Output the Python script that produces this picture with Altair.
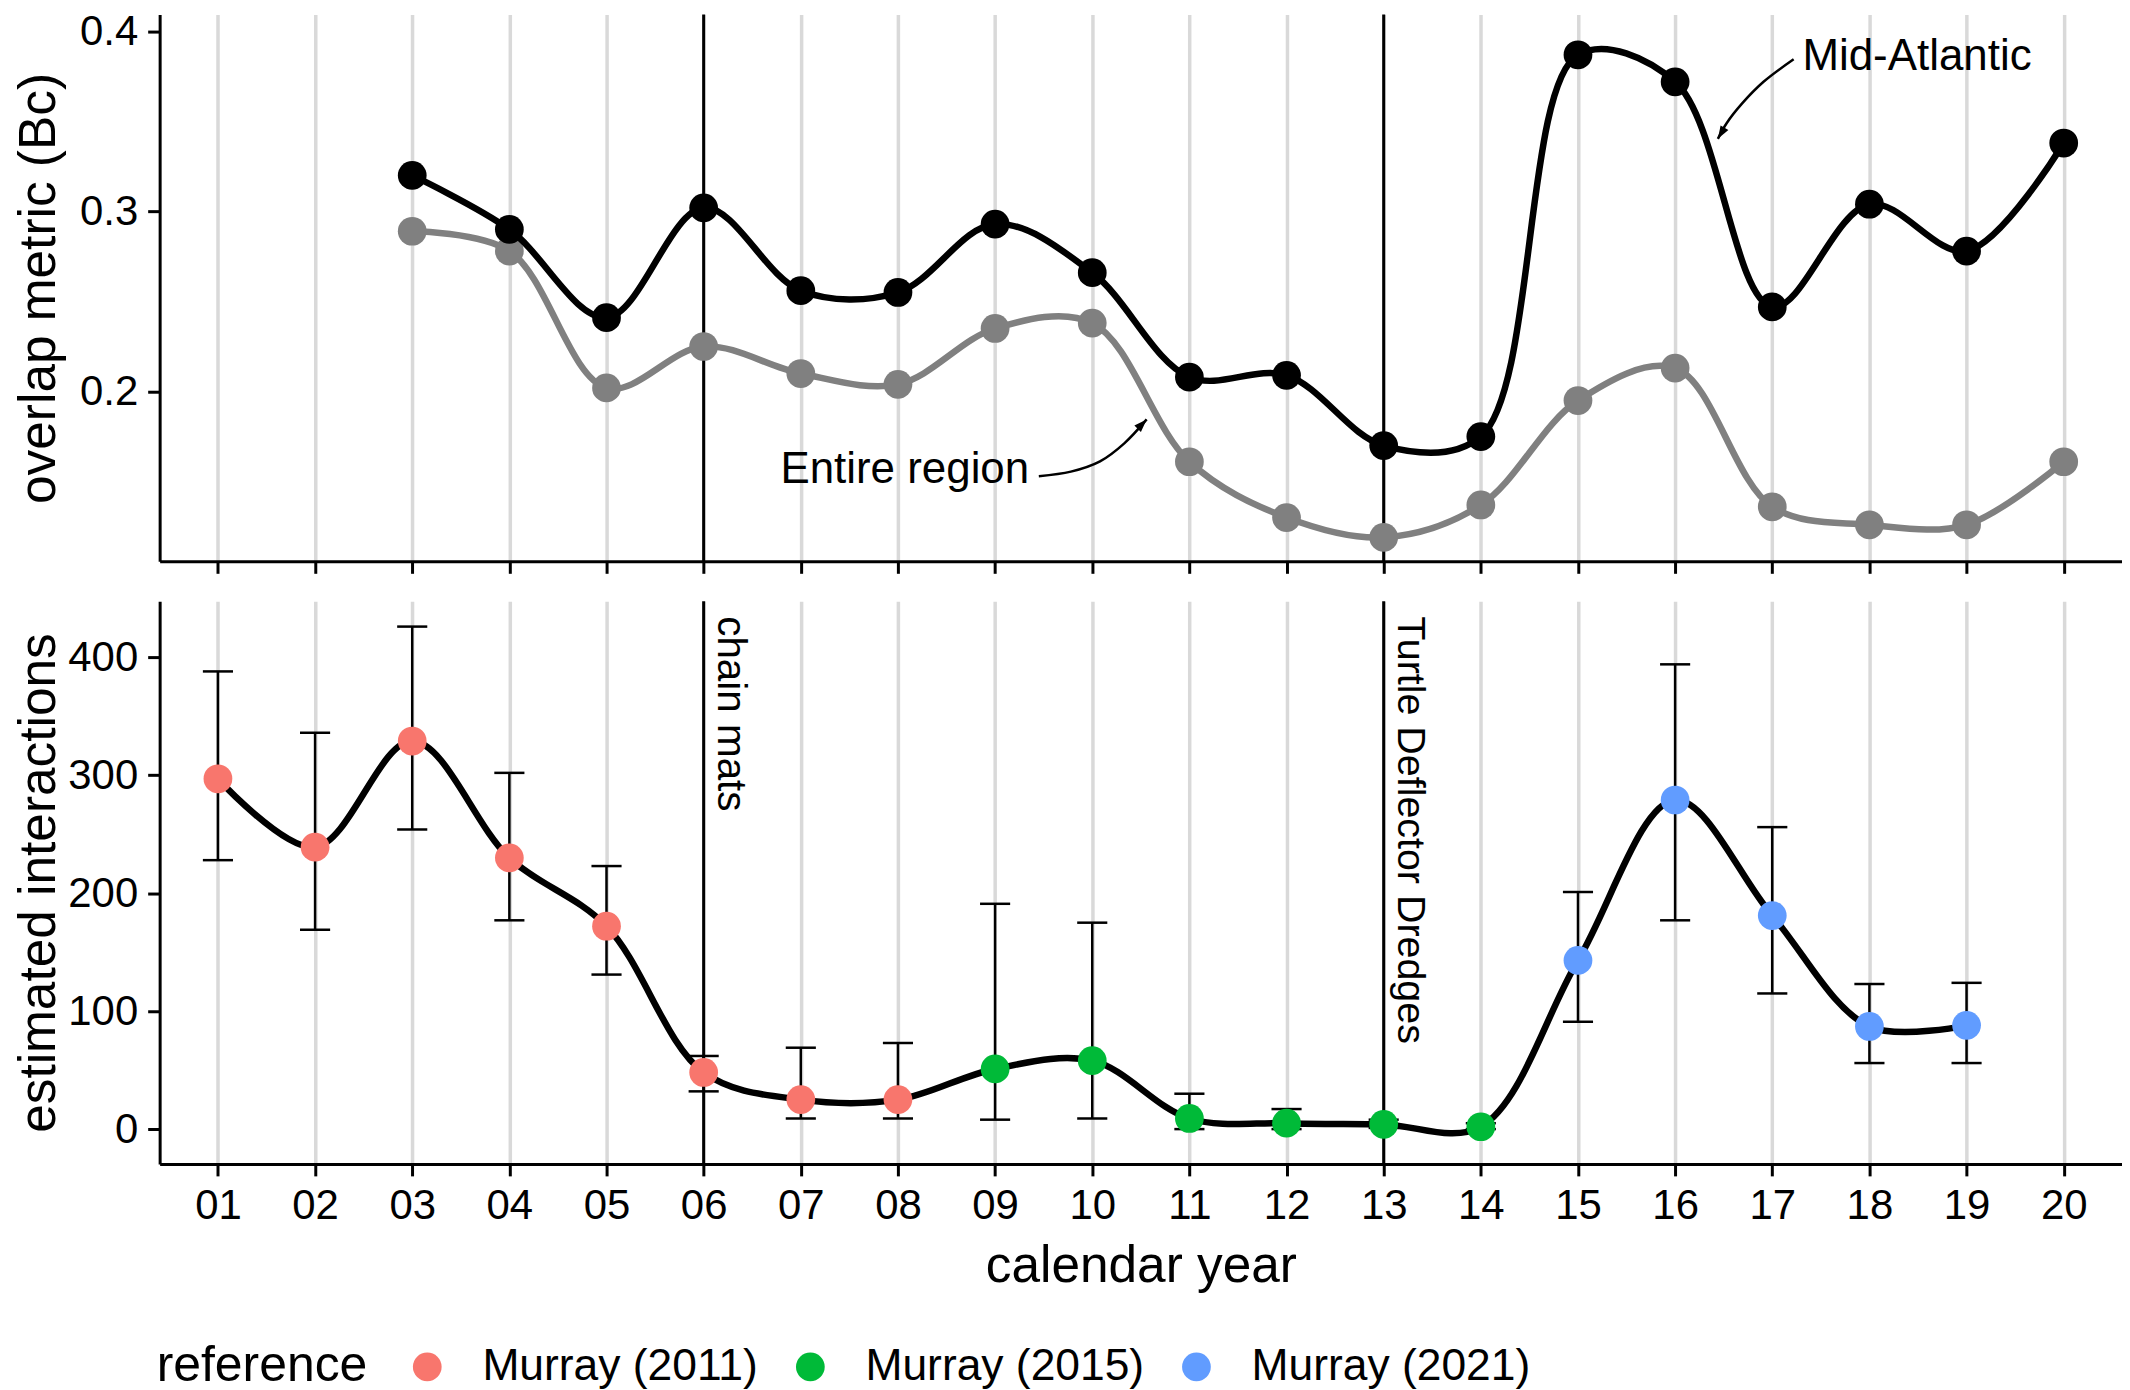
import altair as alt
import pandas as pd

# ---------------- data ----------------
mid_years = list(range(3, 21))
mid_atlantic = [0.320, 0.290, 0.241, 0.302, 0.256, 0.255, 0.293, 0.266, 0.208,
                0.209, 0.170, 0.175, 0.387, 0.372, 0.247, 0.304, 0.278, 0.338]
entire_region = [0.289, 0.278, 0.202, 0.225, 0.210, 0.204, 0.235, 0.238, 0.161,
                 0.130, 0.119, 0.137, 0.195, 0.213, 0.136, 0.126, 0.126, 0.161]

int_years = list(range(1, 20))
interactions = [297, 239, 329, 230, 172, 48, 25, 25, 51, 58, 9, 5, 4, 2, 143, 279, 181, 87, 88]
lower_ci = [228, 169, 254, 177, 131, 32, 9, 9, 8, 9, 0, 0, 1, 0, 91, 177, 115, 56, 56]
upper_ci = [388, 336, 426, 302, 223, 62, 69, 73, 191, 175, 30, 17, 8, 5, 201, 394, 256, 123, 124]
reference = (["Murray (2011)"] * 8 + ["Murray (2015)"] * 6 + ["Murray (2021)"] * 5)
ref_levels = ["Murray (2011)", "Murray (2015)", "Murray (2021)"]
ref_colors = ["#F8766D", "#00BA38", "#619CFF"]

tick_years = list(range(1, 21))
event_years = [6, 13]
event_labels = ["chain mats", "Turtle Deflector Dredges"]
event_fonts = [40.5, 39.5]

# annotation: labels and curved arrows (data units)
lab_x = [17.31, 6.79]
lab_y = [0.3785, 0.1490]
lab_text = ["Mid-Atlantic", "Entire region"]
arrow1_x = [17.22, 16.91, 16.69, 16.53, 16.44]
arrow1_y = [0.3845, 0.3720, 0.3600, 0.3490, 0.3403]
arrow2_x = [9.45, 9.78, 10.08, 10.33, 10.56]
arrow2_y = [0.1530, 0.1555, 0.1612, 0.1712, 0.1845]

FONT = "Liberation Sans"

# ---------------- frames ----------------
top_mid = pd.DataFrame({"year": mid_years, "val": mid_atlantic})
top_ent = pd.DataFrame({"year": mid_years, "val": entire_region})
bot = pd.DataFrame({"year": int_years, "est": interactions, "lo": lower_ci,
                    "hi": upper_ci, "reference": reference})
ev = pd.DataFrame({"year": event_years, "label": event_labels, "fs": event_fonts})
labs = pd.DataFrame({"year": lab_x, "val": lab_y, "label": lab_text})
arr = pd.DataFrame({
    "year": arrow1_x + arrow2_x,
    "val": arrow1_y + arrow2_y,
    "grp": ["a"] * len(arrow1_x) + ["b"] * len(arrow2_x),
    "ord": list(range(len(arrow1_x))) + list(range(len(arrow2_x))),
})
heads = pd.DataFrame({"year": [arrow1_x[-1], arrow2_x[-1]],
                      "val": [arrow1_y[-1], arrow2_y[-1]],
                      "ang": [210.7, 44.0]})

W = 1967
H_TOP = 548
H_BOT = 564
xscale = alt.Scale(domain=[0.4, 20.6], nice=False, zero=False)

label_expr = "datum.value < 10 ? '0' + datum.value : '' + datum.value"

x_top_axis = alt.Axis(values=tick_years, labels=False, title=None, grid=True)
x_bot_axis = alt.Axis(values=tick_years, labelExpr=label_expr, title="calendar year",
                      grid=True)

y_top_scale = alt.Scale(domain=[0.1057, 0.4093], nice=False, zero=False)
y_top_axis = alt.Axis(values=[0.2, 0.3, 0.4], format=".1f", title="overlap metric (Bc)",
                      grid=False, titleX=-94)
y_bot_scale = alt.Scale(domain=[-29.5, 447.5], nice=False, zero=False)
y_bot_axis = alt.Axis(values=[0, 100, 200, 300, 400], title="estimated interactions",
                      grid=False, titleX=-94)

XT = alt.X("year:Q", scale=xscale, axis=x_top_axis)
YT = alt.Y("val:Q", scale=y_top_scale, axis=y_top_axis)

POINT_SIZE = 830
LINE_W = 6.5

# ---------------- top panel ----------------
t_rules = alt.Chart(ev).mark_rule(color="black", strokeWidth=3).encode(x=XT)
t_ent_line = alt.Chart(top_ent).mark_line(color="#808080", strokeWidth=LINE_W,
                                          interpolate="catmull-rom").encode(x=XT, y=YT)
t_ent_pts = alt.Chart(top_ent).mark_circle(color="#808080", opacity=1,
                                           size=POINT_SIZE).encode(x=XT, y=YT)
t_mid_line = alt.Chart(top_mid).mark_line(color="black", strokeWidth=LINE_W,
                                          interpolate="catmull-rom").encode(x=XT, y=YT)
t_mid_pts = alt.Chart(top_mid).mark_circle(color="black", opacity=1,
                                           size=POINT_SIZE).encode(x=XT, y=YT)
t_labels = alt.Chart(labs).mark_text(align="left", baseline="alphabetic", fontSize=44,
                                     font=FONT, color="black").encode(
    x=XT, y=YT, text="label:N")
t_arrows = alt.Chart(arr).mark_line(color="black", strokeWidth=2.5,
                                    interpolate="catmull-rom").encode(
    x=XT, y=YT, detail="grp:N", order="ord:Q")
t_heads = alt.Chart(heads).mark_point(
    shape="M0,0L0.35,1L-0.35,1Z", filled=True, color="black", opacity=1,
    size=676, strokeWidth=0).encode(x=XT, y=YT, angle=alt.Angle("ang:Q", scale=None))

top = alt.layer(t_rules, t_ent_line, t_ent_pts, t_mid_line, t_mid_pts,
                t_labels, t_arrows, t_heads).properties(width=W, height=H_TOP)

# ---------------- bottom panel ----------------
XB = alt.X("year:Q", scale=xscale, axis=x_bot_axis)
YB = alt.Y("est:Q", scale=y_bot_scale, axis=y_bot_axis)

CAP = 0.155
b_rules = alt.Chart(ev).mark_rule(color="black", strokeWidth=3).encode(x=XB)
b_ev_text = alt.Chart(ev).mark_text(angle=90, align="left", baseline="alphabetic",
                                    dy=-14, font=FONT, color="black").encode(
    x=XB, y=alt.value(15), text="label:N", size=alt.Size("fs:Q", scale=None))
b_err = alt.Chart(bot).mark_rule(color="black", strokeWidth=2.5).encode(
    x=XB, y=alt.Y("lo:Q", scale=y_bot_scale, axis=y_bot_axis), y2="hi:Q")
b_cap_hi = alt.Chart(bot).transform_calculate(
    xa=f"datum.year - {CAP}", xb=f"datum.year + {CAP}").mark_rule(
    color="black", strokeWidth=2.5).encode(
    x=alt.X("xa:Q", scale=xscale, axis=x_bot_axis), x2="xb:Q",
    y=alt.Y("hi:Q", scale=y_bot_scale, axis=y_bot_axis))
b_cap_lo = alt.Chart(bot).transform_calculate(
    xa=f"datum.year - {CAP}", xb=f"datum.year + {CAP}").mark_rule(
    color="black", strokeWidth=2.5).encode(
    x=alt.X("xa:Q", scale=xscale, axis=x_bot_axis), x2="xb:Q",
    y=alt.Y("lo:Q", scale=y_bot_scale, axis=y_bot_axis))
b_line = alt.Chart(bot).mark_line(color="black", strokeWidth=LINE_W,
                                  interpolate="catmull-rom").encode(x=XB, y=YB)
b_pts = alt.Chart(bot).mark_circle(opacity=1, size=POINT_SIZE).encode(
    x=XB, y=YB,
    color=alt.Color("reference:N",
                    scale=alt.Scale(domain=ref_levels, range=ref_colors),
                    legend=alt.Legend(
                        title="reference", orient="none", direction="horizontal",
                        titleOrient="left", legendX=-3, legendY=1333,
                        symbolType="circle", symbolSize=POINT_SIZE,
                        symbolStrokeWidth=0, symbolOpacity=1,
                        labelFontSize=44.5, titleFontSize=50, labelFont=FONT,
                        titleFont=FONT, labelColor="black", titleColor="black",
                        titleFontWeight="normal", labelOffset=33,
                        columnPadding=30, titlePadding=37,
                        labelLimit=0, titleLimit=0,
                        titleBaseline="middle", labelBaseline="middle")))

bottom = alt.layer(b_rules, b_ev_text, b_err, b_cap_hi, b_cap_lo, b_line,
                   b_pts).properties(width=W, height=H_BOT)

chart = alt.vconcat(top, bottom, spacing=24).configure(
    padding={"left": 5, "top": 0, "right": 0, "bottom": 0}, font=FONT
).configure_view(stroke=None).configure_axis(
    domainColor="black", domainWidth=3, tickColor="black", tickWidth=3, tickSize=12,
    labelColor="black", labelFontSize=42, labelFont=FONT, labelPadding=10,
    titleColor="black", titleFontSize=51.5, titleFont=FONT, titleFontWeight="normal",
    gridColor="#D9D9D9", gridWidth=3.5, titlePadding=14
)

chart.save("out.html", embed_options={"renderer": "svg", "actions": False})
